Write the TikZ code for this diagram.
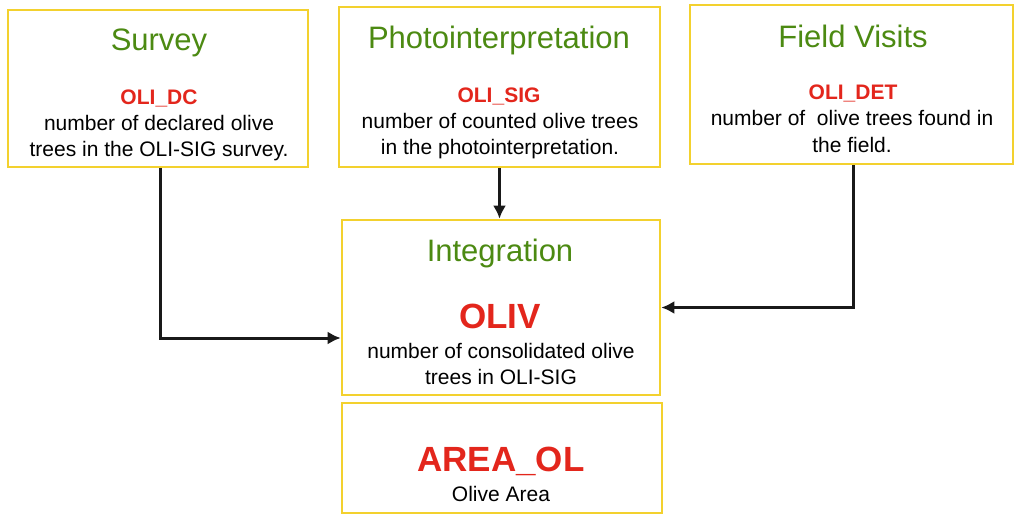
\documentclass[tikz,border=0pt]{standalone}
\usepackage{fontspec}
\setmainfont{Liberation Sans}
\usetikzlibrary{arrows.meta}
\definecolor{boxyellow}{HTML}{F3D12E}
\definecolor{titlegreen}{HTML}{4C8A12}
\definecolor{labelred}{HTML}{E3261C}
\tikzset{
  box/.style={draw=boxyellow, line width=2.6pt, fill=white, inner sep=0pt},
  ttl/.style={anchor=base, inner sep=0pt, text=titlegreen, font=\fontsize{31}{31}\selectfont},
  lbl/.style={anchor=base, inner sep=0pt, text=labelred, font=\fontsize{21}{21}\selectfont\bfseries},
  biglbl/.style={anchor=base, inner sep=0pt, text=labelred, font=\fontsize{35}{35}\selectfont\bfseries},
  txt/.style={anchor=base, inner sep=0pt, text=black, font=\fontsize{21}{21}\selectfont},
  conn/.style={draw=black!90, line width=3pt, -{Latex[length=13pt,width=13pt]}}
}
\begin{document}
\begin{tikzpicture}[x=1pt,y=-1pt]
\useasboundingbox (0,0) rectangle (1017,517);
% boxes
\node[box, minimum width=300, minimum height=157] (survey) at (158,88.5) {};
\node[box, minimum width=321, minimum height=160] (photo) at (499.5,87) {};
\node[box, minimum width=323, minimum height=159] (field) at (851.5,84.5) {};
\node[box, minimum width=318, minimum height=175] (integ) at (501,307.5) {};
\node[box, minimum width=320, minimum height=110] (area) at (502,458) {};
% survey texts
\node[ttl] (t1) at (159,50) {Survey};
\node[lbl] (l1) at (159,104) {OLI\_DC};
\node[txt] (a1) at (159,130) {number of declared olive};
\node[txt] (b1) at (159,156) {trees in the OLI-SIG survey.};
% photo texts
\node[ttl] (t2) at (499,48) {Photointerpretation};
\node[lbl] (l2) at (499,102) {OLI\_SIG};
\node[txt] (a2) at (500,128) {number of counted olive trees};
\node[txt] (b2) at (500,154) {in the photointerpretation.};
% field texts
\node[ttl] (t3) at (853,47) {Field Visits};
\node[lbl] (l3) at (853,99) {OLI\_DET};
\node[txt] (a3) at (852,125) {number of\ \ olive trees found in};
\node[txt] (b3) at (852,152) {the field.};
% integration texts
\node[ttl] (t4) at (500,261) {Integration};
\node[biglbl] (l4) at (500,328) {OLIV};
\node[txt] (a4) at (501,358) {number of consolidated olive};
\node[txt] (b4) at (501,384) {trees in OLI-SIG};
% area texts
\node[biglbl] (l5) at (501,471) {AREA\_OL};
\node[txt] (a5) at (501,501) {Olive Area};
% connectors
\coordinate (inL) at ([yshift=-30.5pt]integ.west);
\draw[conn] ([xshift=2pt]survey.south) |- (inL);
\draw[conn] (photo.south) -- (photo.south |- integ.north);
\draw[conn] ([xshift=1.5pt]field.south) |- (integ.east);
\end{tikzpicture}
\end{document}
